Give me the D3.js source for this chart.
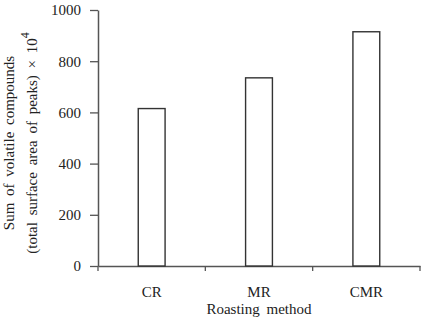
<!DOCTYPE html>
<html>
<head>
<meta charset="UTF-8">
<style>
  body { margin: 0; background: #fff; }
  text { font-family: "Liberation Serif", "DejaVu Serif", serif; fill: #222; }
</style>
</head>
<body>
<div id="chart"></div>
<script src="https://d3js.org/d3.v7.min.js"></script>
<script>
// data
const methods = ["CR", "MR", "CMR"];
const volatileSum = [615, 735, 915];
const yTicks = [0, 200, 400, 600, 800, 1000];

const W = 423, H = 320;
const margin = { top: 10, right: 3, bottom: 54, left: 98 };
const width = W - margin.left - margin.right;
const height = H - margin.top - margin.bottom;

const svg = d3.select("#chart").append("svg")
  .attr("width", W).attr("height", H);

const g = svg.append("g")
  .attr("transform", `translate(${margin.left},${margin.top})`);

const x = d3.scaleBand().domain(methods).range([0, width]).paddingInner(0).paddingOuter(0);
const y = d3.scaleLinear().domain([0, 1000]).range([height, 0]);
const barW = x.bandwidth() * 0.25;

// y axis
const yAxis = g.append("g")
  .call(d3.axisLeft(y).tickValues(yTicks).tickFormat(d3.format("d"))
    .tickSize(8).tickPadding(9).tickSizeOuter(0));
yAxis.selectAll("text").style("font-size", "15px").attr("fill", "#222");

// x axis with ticks at band edges
const xAxis = g.append("g").attr("transform", `translate(0,${height})`)
  .call(d3.axisBottom(x).tickSize(0).tickPadding(20));
xAxis.selectAll("text").style("font-size", "15px").attr("fill", "#222");
const edges = methods.map(m => x(m)).concat([width]);
xAxis.selectAll(".edge").data(edges).enter().append("line")
  .attr("class", "edge")
  .attr("x1", d => d).attr("x2", d => d)
  .attr("y1", 0).attr("y2", 5)
  .attr("stroke", "#555").attr("stroke-width", 1.3);

svg.selectAll(".domain").attr("stroke", "#555").attr("stroke-width", 1.5);
svg.selectAll(".tick line").attr("stroke", "#555").attr("stroke-width", 1.3);

// bars
g.selectAll(".bar").data(methods).enter().append("rect")
  .attr("class", "bar")
  .attr("x", d => x(d) + (x.bandwidth() - barW) / 2)
  .attr("width", barW)
  .attr("y", (d, i) => y(volatileSum[i]))
  .attr("height", (d, i) => height - y(volatileSum[i]))
  .attr("fill", "#fff")
  .attr("stroke", "#333")
  .attr("stroke-width", 1.4);

// axis titles
svg.append("text")
  .attr("x", margin.left + width / 2).attr("y", 314)
  .attr("text-anchor", "middle").style("font-size", "15px").style("word-spacing", "3px")
  .text("Roasting method");

const yt = svg.append("text")
  .attr("transform", `translate(14,143) rotate(-90)`)
  .attr("text-anchor", "middle").style("font-size", "15px").style("word-spacing", "3px");
yt.append("tspan").attr("x", 0).attr("dy", 0).text("Sum of volatile compounds");
yt.append("tspan").attr("x", 0).attr("dy", 23).text("(total surface area of peaks) × 10");
yt.append("tspan").attr("dy", -8).style("font-size", "12px").text("4");
</script>
</body>
</html>
